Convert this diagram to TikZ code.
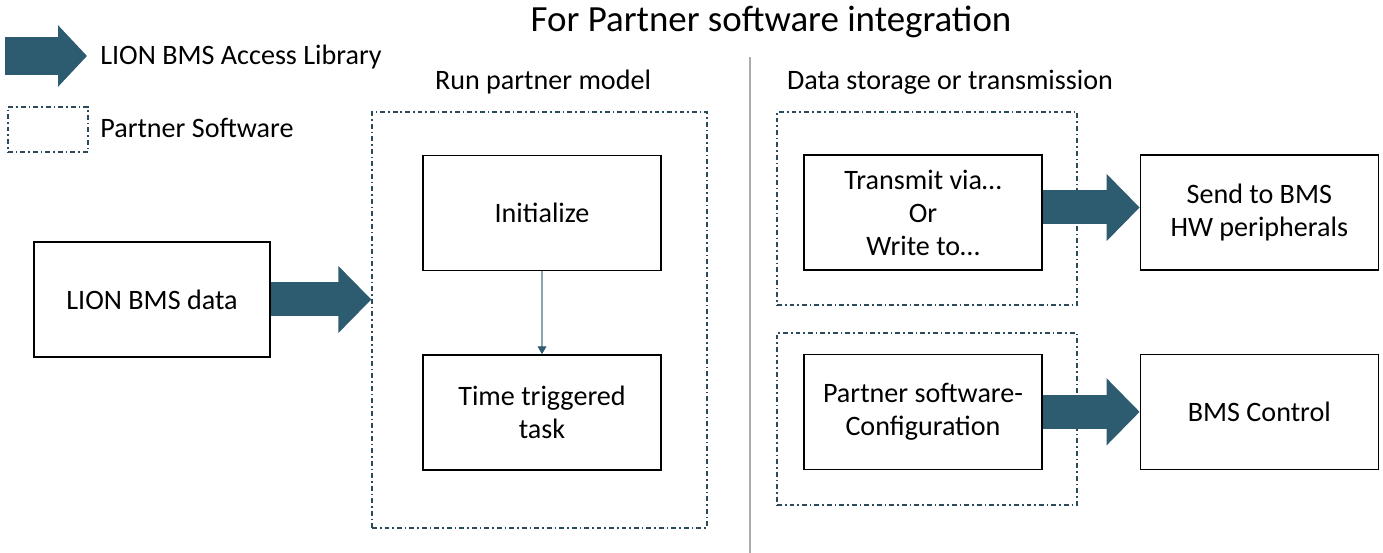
\documentclass[tikz,border=0pt]{standalone}
\usepackage{fontspec}
\setmainfont{Carlito}
\usetikzlibrary{positioning, arrows.meta}
\definecolor{libBlue}{HTML}{2D5B6F}
\definecolor{partnerLine}{HTML}{2B4A5A}
\definecolor{dividerGray}{HTML}{ABABAB}

\begin{document}
\begin{tikzpicture}[
  x=0.02cm, y=-0.02cm,
  node distance=1.66cm,
  box/.style={rectangle, draw=black, line width=0.8pt, minimum width=4.76cm,
              minimum height=2.3cm, align=center, inner sep=4pt,
              font=\fontsize{16}{18.8}\selectfont},
  partner/.style={rectangle, draw=partnerLine, line width=0.75pt,
                  dash pattern=on 2.8pt off 1.7pt on 0.9pt off 1.7pt},
  label/.style={font=\fontsize{16}{18.8}\selectfont, inner sep=0pt},
  libarrow/.style={-{Triangle[length=0.66cm, width=1.3cm]}, line width=0.68cm, draw=libBlue},
  flow/.style={-{Triangle[length=4.5pt, width=5pt, color=libBlue]}, line width=0.6pt, draw=libBlue!55},
  divider/.style={draw=dividerGray, line width=0.6pt}
]
\useasboundingbox (0,0) rectangle (1383,553);

\node[font=\fontsize{21}{25}\selectfont] (title) at (771,22) {For Partner software integration};

% legend
\coordinate (keyA) at (5,56);
\coordinate (keyB) at (87,56);
\draw[libarrow, line width=0.76cm, -{Triangle[length=0.58cm, width=1.2cm]}] (keyA) -- (keyB);
\node[label, anchor=west] (keyLib) at (100,57) {LION BMS Access Library};
\node[partner, minimum width=1.6cm, minimum height=0.9cm] (keyBox) at (48,129.5) {};
\node[label, anchor=west] (keyPartner) at (100,128) {Partner Software};

\draw[divider] (750,57) -- (750,553);

% run partner model
\node[label] (runLabel) at (543,82) {Run partner model};
\node[partner, minimum width=6.7cm, minimum height=8.32cm] (runBox) at (539.5,320) {};
\node[box] (init) at (542,213) {Initialize};
\node[box, below=of init] (task) {Time triggered\\task};
\node[box, minimum width=4.72cm] (data) at (152,299.5) {LION BMS data};

% data storage or transmission
\node[label] (storeLabel) at (950,82) {Data storage or transmission};
\node[partner, minimum width=6cm, minimum height=3.86cm] (storeBox) at (927,208.5) {};
\node[partner, minimum width=6cm, minimum height=3.44cm] (cfgBox) at (927,419) {};
\node[box] (transmit) at (923,212.5) {Transmit via\dots\\Or\\Write to\dots};
\node[box, below=of transmit] (config) {Partner software-\\Configuration};
\node[box, right=1.94cm of transmit] (send) {Send to BMS\\HW peripherals};
\node[box, below=of send] (control) {BMS Control};

\draw[libarrow] (data.east) -- (data.east -| runBox.west);
\draw[flow] (init) -- (task);
\draw[libarrow] ([yshift=0.1cm]transmit.east) -- ([yshift=0.1cm]send.west);
\draw[libarrow] (config.east) -- (control.west);
\end{tikzpicture}
\end{document}
